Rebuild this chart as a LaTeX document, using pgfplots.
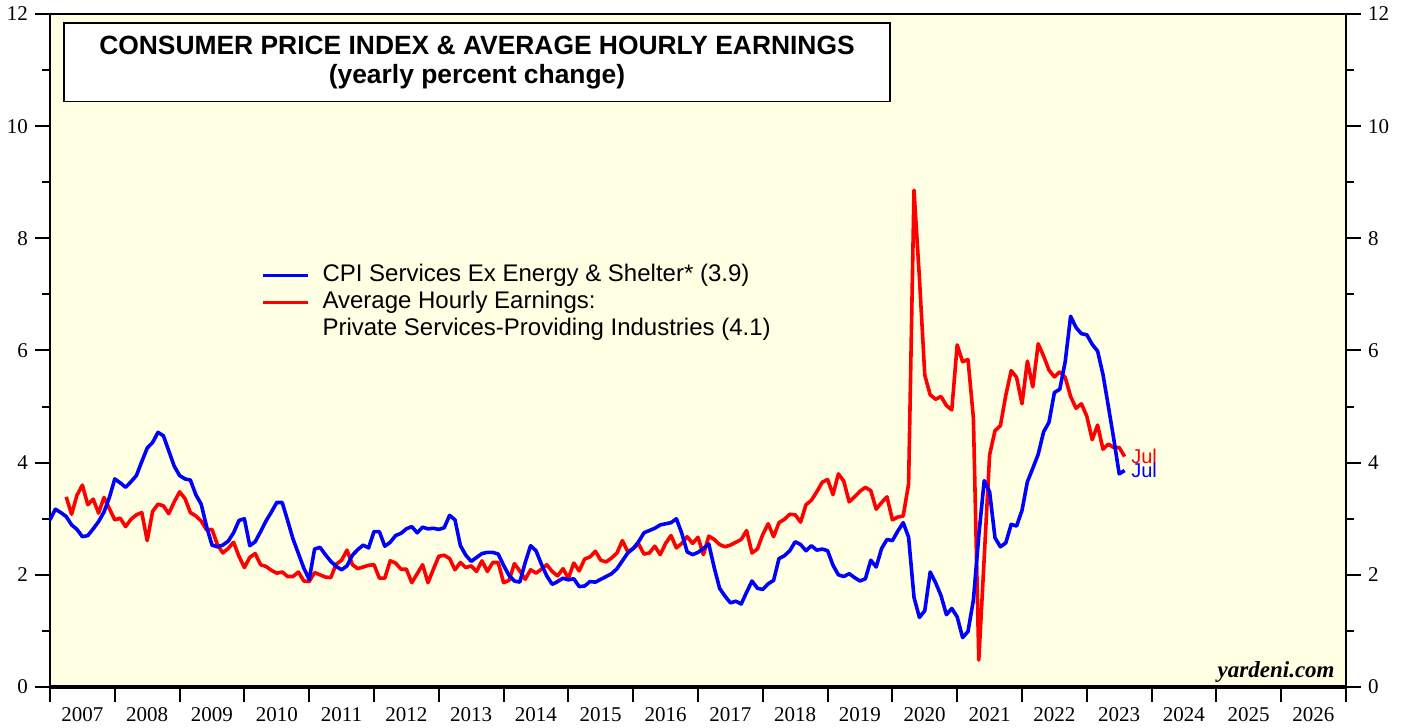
\documentclass[border=0pt]{standalone}
\usepackage{fontspec}
\setmainfont{Liberation Serif}
\newfontfamily\arial{Liberation Sans}
\usepackage{pgfplots}
\pgfplotsset{compat=1.18}
\usepackage{pgfplotstable}
\definecolor{bgyellow}{RGB}{255,255,228}

% monthly, Dec 2006 .. Jul 2023 (x = 2007 + index/12)
\pgfplotstableread{
cpi ahe
2.98 nan
3.17 nan
3.11 nan
3.04 3.39
2.89 3.08
2.81 3.42
2.68 3.60
2.70 3.25
2.82 3.35
2.95 3.10
3.12 3.38
3.38 3.18
3.71 2.98
3.64 3.01
3.56 2.86
3.66 2.99
3.77 3.07
4.02 3.11
4.26 2.61
4.36 3.13
4.54 3.26
4.48 3.23
4.21 3.09
3.94 3.30
3.77 3.48
3.71 3.36
3.69 3.11
3.43 3.05
3.26 2.96
2.86 2.80
2.53 2.81
2.50 2.54
2.53 2.39
2.60 2.47
2.75 2.58
2.97 2.33
3.00 2.13
2.52 2.31
2.59 2.38
2.77 2.18
2.96 2.15
3.12 2.08
3.29 2.03
3.29 2.05
2.97 1.97
2.64 1.97
2.38 2.05
2.12 1.89
1.92 1.88
2.46 2.04
2.49 2.00
2.36 1.96
2.24 1.95
2.15 2.19
2.09 2.26
2.16 2.44
2.35 2.18
2.45 2.11
2.53 2.14
2.48 2.17
2.77 2.18
2.77 1.94
2.51 1.94
2.58 2.25
2.70 2.21
2.74 2.10
2.82 2.10
2.86 1.86
2.75 2.02
2.85 2.18
2.82 1.86
2.83 2.10
2.81 2.33
2.84 2.35
3.06 2.29
2.98 2.09
2.52 2.22
2.35 2.13
2.24 2.16
2.31 2.06
2.38 2.25
2.40 2.06
2.40 2.22
2.37 2.22
2.17 1.86
1.99 1.90
1.89 2.20
1.87 2.07
2.22 1.92
2.52 2.09
2.43 2.03
2.19 2.10
1.98 2.18
1.83 2.06
1.88 1.98
1.94 2.11
1.91 1.94
1.93 2.21
1.79 2.07
1.80 2.28
1.88 2.32
1.87 2.42
1.92 2.26
1.97 2.23
2.02 2.30
2.11 2.39
2.25 2.61
2.39 2.41
2.47 2.47
2.59 2.55
2.75 2.37
2.79 2.39
2.83 2.51
2.89 2.36
2.91 2.56
2.93 2.70
3.00 2.48
2.74 2.56
2.41 2.68
2.36 2.56
2.40 2.67
2.47 2.36
2.55 2.69
2.13 2.63
1.76 2.54
1.62 2.50
1.50 2.53
1.53 2.58
1.48 2.63
1.69 2.79
1.89 2.39
1.76 2.46
1.74 2.72
1.84 2.91
1.90 2.68
2.29 2.93
2.34 2.99
2.43 3.08
2.59 3.07
2.54 2.94
2.43 3.25
2.52 3.33
2.44 3.48
2.46 3.65
2.43 3.70
2.17 3.43
2.00 3.80
1.97 3.67
2.02 3.30
1.95 3.39
1.89 3.49
1.93 3.56
2.26 3.50
2.14 3.17
2.47 3.29
2.63 3.39
2.61 2.98
2.78 3.03
2.93 3.05
2.67 3.62
1.60 8.86
1.24 7.30
1.36 5.56
2.05 5.21
1.86 5.13
1.63 5.18
1.29 5.02
1.40 4.94
1.25 6.10
0.88 5.80
0.99 5.84
1.55 4.80
2.70 0.48
3.68 2.30
3.48 4.14
2.66 4.57
2.50 4.66
2.57 5.20
2.90 5.64
2.87 5.52
3.15 5.05
3.66 5.81
3.90 5.35
4.15 6.12
4.55 5.90
4.72 5.65
5.25 5.53
5.31 5.62
5.80 5.52
6.61 5.18
6.41 4.97
6.30 5.05
6.28 4.83
6.11 4.41
5.99 4.67
5.57 4.24
5.00 4.33
4.42 4.27
3.80 4.27
3.86 4.11
}\data

\begin{document}
\begin{tikzpicture}
\begin{axis}[
  name=main,
  scale only axis, width=648pt, height=336.5pt,
  xmin=2007, xmax=2027, ymin=0, ymax=12,
  clip=false,
  axis background/.style={fill=bgyellow},
  axis line style={line width=1pt},
  tick style={line width=1pt, black},
  tick align=outside,
  major tick length=7.5pt, minor tick length=4pt,
  xtick={2007,...,2027},
  x tick label as interval,
  xtick pos=left,
  ytick={0,2,...,12},
  minor ytick={1,3,...,11},
  ytick pos=both, yticklabel pos=left,
  /pgf/number format/.cd, 1000 sep={}, assume math mode=true, /pgfplots/.cd,
  tick label style={font=\fontsize{10.5}{12}\selectfont},
  xticklabel style={yshift=1pt},
]
\addplot[red, line width=1.8pt, line join=round] table[x expr=2007+\coordindex/12, y=ahe] {\data};
\addplot[blue, line width=1.8pt, line join=round] table[x expr=2007+\coordindex/12, y=cpi] {\data};

\draw[fill=white, line width=0.8pt] (rel axis cs:0.0108,0.870) rectangle (rel axis cs:0.648,0.987);
\node[align=center, font=\arial\bfseries\fontsize{13.2}{14.5}\selectfont] at (rel axis cs:0.3295,0.928)
  {CONSUMER PRICE INDEX \& AVERAGE HOURLY EARNINGS\\(yearly percent change)};

\draw[blue, line width=1.8pt] (rel axis cs:0.1640,0.6115) -- (rel axis cs:0.1990,0.6115);
\node[anchor=west, inner sep=0pt, font=\arial\fontsize{12}{13}\selectfont] at (rel axis cs:0.2100,0.6110)
  {CPI Services Ex Energy \& Shelter* (3.9)};
\draw[red, line width=1.8pt] (rel axis cs:0.1640,0.5715) -- (rel axis cs:0.1990,0.5715);
\node[anchor=west, inner sep=0pt, font=\arial\fontsize{12}{13}\selectfont] at (rel axis cs:0.2100,0.5713)
  {Average Hourly Earnings:};
\node[anchor=west, inner sep=0pt, font=\arial\fontsize{12}{13}\selectfont] at (rel axis cs:0.2100,0.5320)
  {Private Services-Providing Industries (4.1)};

\node[anchor=west, inner sep=0pt, red, font=\arial\fontsize{10}{12}\selectfont] at (axis cs:2023.68,4.12) {Jul};
\node[anchor=west, inner sep=0pt, blue, font=\arial\fontsize{10}{12}\selectfont] at (axis cs:2023.68,3.87) {Jul};

\node[anchor=base east, inner sep=0pt, font=\bfseries\itshape\fontsize{11.5}{13}\selectfont] at (rel axis cs:0.9915,0.0134) {yardeni.com};
\draw[line width=1.6pt] (rel axis cs:0,0) -- (rel axis cs:1,0);
\end{axis}
\begin{axis}[
  scale only axis, width=648pt, height=336.5pt,
  xmin=2007, xmax=2027, ymin=0, ymax=12,
  hide x axis, axis y line*=right,
  y axis line style={draw=none},
  ytick style={draw=none},
  tick align=outside, major tick length=7.5pt,
  ytick={0,2,...,12}, minor ytick={},
  /pgf/number format/.cd, assume math mode=true, /pgfplots/.cd,
  tick label style={font=\fontsize{10.5}{12}\selectfont},
]
\end{axis}
\path (main.south west) ++(-25pt,-16pt) rectangle ++(703pt,359.5pt);
\end{tikzpicture}
\end{document}
